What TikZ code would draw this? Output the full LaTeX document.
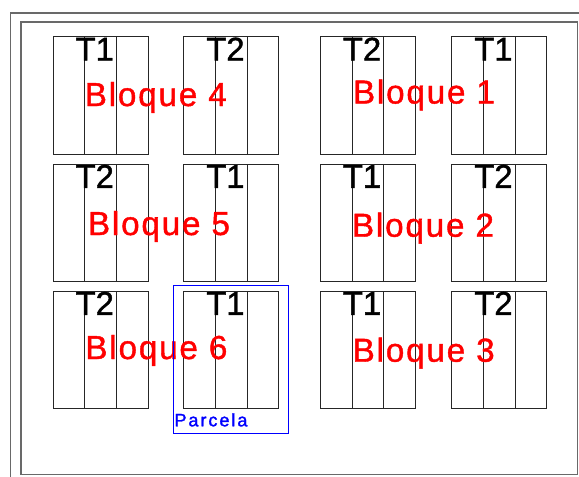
\documentclass[tikz,border=0pt]{standalone}
\usepackage{fontspec}
\setmainfont{Liberation Sans}
\newfontfamily\tfont[FakeBold=1.2]{Liberation Sans}
\newfontfamily\bloquefont[LetterSpace=5.5,FakeBold=1.2]{Liberation Sans}
\newfontfamily\parcelafont[LetterSpace=11,FakeBold=1.6]{Liberation Sans}
\usetikzlibrary{calc}
\definecolor{framegray}{RGB}{105,105,105}
\begin{document}
\begin{tikzpicture}[x=1pt,y=-1pt,
  plotbox/.style={draw=black!85,line width=0.9pt,minimum width=95pt,minimum height=117.5pt,inner sep=0pt,outer sep=0pt,anchor=north west},
  tlabel/.style={anchor=base west,inner sep=0pt,outer sep=0pt,font=\tfont\fontsize{32.8}{36}\selectfont,text=black},
  bloque/.style={anchor=base west,inner sep=0pt,outer sep=0pt,font=\bloquefont\fontsize{33.2}{36}\selectfont,text=red},
  frame/.style={draw=framegray,line width=1.3pt}]
\useasboundingbox (0,0) rectangle (579,477);
% frames
\draw[frame] (10.5,480) -- (10.5,13) -- (582,13);
\draw[frame] (21,22) rectangle (577.5,474.5);
% plots
\foreach \x/\y/\n/\t in {53/36.7/a1/T1,183.7/36.7/a2/T2,320.3/36.7/a3/T2,451.7/36.7/a4/T1,
                         53/164/b1/T2,183.7/164/b2/T1,320.3/164/b3/T1,451.7/164/b4/T2,
                         53/291/c1/T2,183.7/291/c2/T1,320.3/291/c3/T1,451.7/291/c4/T2}{
  \node[plotbox] (\n) at (\x,\y) {};
  \draw[black!85,line width=0.9pt] ($(\n.north west)!1/3!(\n.north east)$) -- ($(\n.south west)!1/3!(\n.south east)$);
  \draw[black!85,line width=0.9pt] ($(\n.north west)!2/3!(\n.north east)$) -- ($(\n.south west)!2/3!(\n.south east)$);
  \node[tlabel] (t\n) at ([xshift=22.6pt,yshift=-23.8pt]\n.north west) {\t};
}
% block labels
\node[bloque] (b4) at (84.8,106) {Bloque 4};
\node[bloque] (b1) at (353,103.5) {Bloque 1};
\node[bloque] (b5) at (88,235) {Bloque 5};
\node[bloque] (b2) at (352,236.7) {Bloque 2};
\node[bloque] (b6) at (85.4,359) {Bloque 6};
\node[bloque] (b3) at (352.7,361.7) {Bloque 3};
% parcela
\node[draw=blue,line width=0.9pt,minimum width=115.4pt,minimum height=147.7pt,inner sep=0pt] (parcela) at (231,359.15) {};
\node[anchor=base west,inner sep=0pt,text=blue,font=\parcelafont\fontsize{18}{20}\selectfont] (plabel) at (174.3,426.3) {Parcela};
\end{tikzpicture}
\end{document}
